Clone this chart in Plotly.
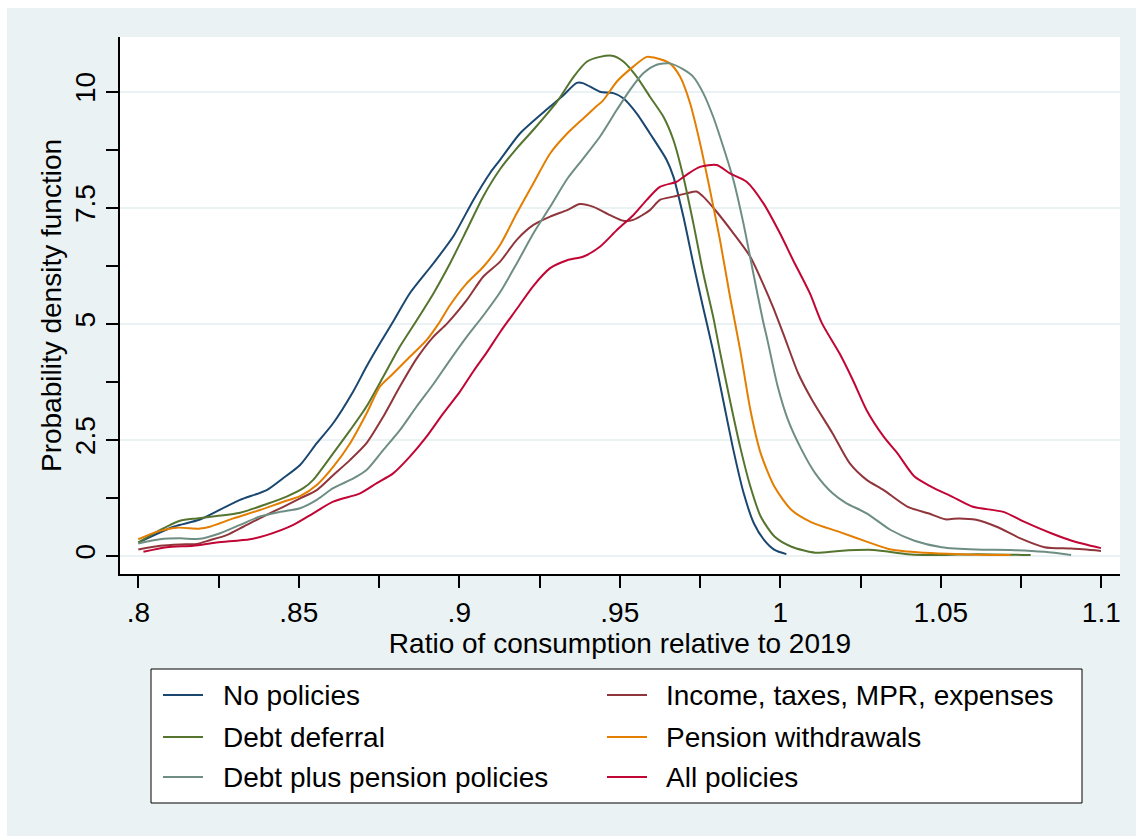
import plotly.graph_objects as go

# Kernel density estimates of the consumption ratio (relative to 2019)
x_none = [0.800, 0.811, 0.819, 0.8255, 0.8317, 0.840, 0.845, 0.8504, 0.8556, 0.8607, 0.867, 0.8711,
          0.8753, 0.8794, 0.8846, 0.8919, 0.8981, 0.9044, 0.9096, 0.9127, 0.9189, 0.9283, 0.9325,
          0.9366, 0.9387, 0.9438, 0.948, 0.9511, 0.9553, 0.9594, 0.9646, 0.9667, 0.9698, 0.9729,
          0.9758, 0.979, 0.9822, 0.9854, 0.9886, 0.9918, 0.995, 0.9982, 1.0019]
y_none = [0.29, 0.63, 0.78, 1.00, 1.21, 1.42, 1.67, 1.96, 2.43, 2.86, 3.55, 4.08,
          4.58, 5.05, 5.66, 6.30, 6.88, 7.67, 8.25, 8.53, 9.10, 9.68, 9.93,
          10.19, 10.18, 10.00, 9.97, 9.86, 9.53, 9.10, 8.53, 8.17, 7.31, 6.30,
          5.40, 4.44, 3.36, 2.28, 1.35, 0.70, 0.34, 0.13, 0.04]

x_income = [0.800, 0.8068, 0.813, 0.8182, 0.8223, 0.8275, 0.8327, 0.8389, 0.8452, 0.8504, 0.8556,
            0.8607, 0.866, 0.8711, 0.8763, 0.8815, 0.8867, 0.8919, 0.8961, 0.9023, 0.9075, 0.9127,
            0.9179, 0.9231, 0.9283, 0.9336, 0.9376, 0.9418, 0.947, 0.9511, 0.9542, 0.9594, 0.9625,
            0.9667, 0.9708, 0.9739, 0.976, 0.9801, 0.9854, 0.9906, 0.9947, 0.9978, 1.0013, 1.0056,
            1.0099, 1.0163, 1.0216, 1.0269, 1.0322, 1.0397, 1.0461, 1.0514, 1.0557, 1.061, 1.0674,
            1.0748, 1.0823, 1.0908, 1.0999]
y_income = [0.14, 0.22, 0.25, 0.26, 0.34, 0.45, 0.63, 0.85, 1.06, 1.24, 1.42,
            1.74, 2.07, 2.43, 3.00, 3.65, 4.25, 4.72, 5.00, 5.51, 6.02, 6.34,
            6.81, 7.13, 7.31, 7.45, 7.58, 7.52, 7.34, 7.22, 7.24, 7.45, 7.67,
            7.74, 7.81, 7.85, 7.74, 7.42, 6.95, 6.45, 5.85, 5.35, 4.72, 3.93,
            3.36, 2.64, 2.00, 1.64, 1.42, 1.06, 0.92, 0.79, 0.81, 0.78, 0.63,
            0.38, 0.19, 0.16, 0.11]

x_debt = [0.800, 0.8057, 0.813, 0.8182, 0.8244, 0.8317, 0.840, 0.8462, 0.8514, 0.8545, 0.8607,
          0.866, 0.8711, 0.8763, 0.8815, 0.8865, 0.8919, 0.8971, 0.9023, 0.9075, 0.9127, 0.9179,
          0.9231, 0.9304, 0.9356, 0.9398, 0.9438, 0.948, 0.9511, 0.9553, 0.9594, 0.9636, 0.9667,
          0.9698, 0.9729, 0.976, 0.9791, 0.9811, 0.9843, 0.9875, 0.9907, 0.9939, 0.9982, 1.0035,
          1.0109, 1.0184, 1.029, 1.0397, 1.0503, 1.061, 1.078]
y_debt = [0.29, 0.52, 0.76, 0.81, 0.86, 0.93, 1.12, 1.28, 1.46, 1.64, 2.21,
          2.71, 3.22, 3.86, 4.51, 5.05, 5.65, 6.30, 7.02, 7.75, 8.33, 8.78,
          9.18, 9.78, 10.32, 10.65, 10.75, 10.77, 10.65, 10.32, 9.89, 9.46, 8.96,
          8.17, 7.17, 6.09, 5.15, 4.44, 3.36, 2.35, 1.49, 0.85, 0.42, 0.20,
          0.07, 0.11, 0.13, 0.04, 0.02, 0.04, 0.02]

x_pension = [0.800, 0.8057, 0.812, 0.8192, 0.8223, 0.8296, 0.8379, 0.8452, 0.8504, 0.8556, 0.8607,
             0.866, 0.8711, 0.8753, 0.8794, 0.8846, 0.8898, 0.8935, 0.8971, 0.9023, 0.9075, 0.9127,
             0.9179, 0.9231, 0.9283, 0.9336, 0.9387, 0.9428, 0.9449, 0.9491, 0.9542, 0.9584, 0.9615,
             0.9656, 0.9688, 0.9719, 0.975, 0.9781, 0.9812, 0.9843, 0.9875, 0.9907, 0.9939, 0.9982,
             1.0035, 1.0099, 1.0184, 1.0269, 1.0344, 1.045, 1.0557, 1.0717]
y_pension = [0.36, 0.52, 0.61, 0.59, 0.63, 0.81, 0.99, 1.17, 1.29, 1.53, 1.92,
             2.43, 3.07, 3.65, 3.93, 4.29, 4.65, 5.00, 5.40, 5.87, 6.23, 6.70,
             7.38, 8.03, 8.67, 9.10, 9.43, 9.69, 9.82, 10.22, 10.54, 10.75, 10.72,
             10.61, 10.32, 9.75, 8.89, 7.88, 6.81, 5.60, 4.44, 3.14, 2.21, 1.49,
             0.99, 0.72, 0.52, 0.31, 0.14, 0.07, 0.04, 0.02]

x_both = [0.800, 0.8068, 0.813, 0.8192, 0.8255, 0.8317, 0.8379, 0.8441, 0.8504, 0.8556, 0.8607,
          0.867, 0.8711, 0.8763, 0.8815, 0.8867, 0.8919, 0.8971, 0.9023, 0.9075, 0.9127, 0.9179,
          0.9231, 0.9283, 0.9336, 0.9387, 0.9438, 0.9491, 0.9532, 0.9574, 0.9615, 0.9656, 0.9698,
          0.9729, 0.976, 0.9791, 0.9822, 0.9854, 0.9885, 0.9916, 0.9945, 0.996, 0.9992, 1.0024,
          1.0067, 1.0109, 1.0163, 1.0205, 1.0269, 1.0344, 1.0418, 1.0503, 1.061, 1.0717, 1.0823,
          1.0906]
y_both = [0.27, 0.36, 0.38, 0.37, 0.49, 0.67, 0.85, 0.95, 1.03, 1.21, 1.46,
          1.67, 1.85, 2.28, 2.71, 3.22, 3.70, 4.22, 4.72, 5.18, 5.68, 6.30,
          6.95, 7.52, 8.12, 8.57, 9.03, 9.61, 10.04, 10.40, 10.58, 10.61, 10.48,
          10.32, 9.97, 9.46, 8.82, 8.10, 7.17, 6.09, 5.10, 4.65, 3.65, 2.93,
          2.28, 1.78, 1.35, 1.14, 0.92, 0.56, 0.33, 0.19, 0.14, 0.13, 0.09,
          0.02]

x_all = [0.8016, 0.8088, 0.8171, 0.8244, 0.8348, 0.840, 0.8483, 0.8545, 0.8607, 0.8691, 0.8743,
         0.8794, 0.8846, 0.8898, 0.895, 0.9002, 0.9044, 0.9085, 0.9127, 0.9179, 0.9231,
         0.9283, 0.9336, 0.9387, 0.9438, 0.9491, 0.9542, 0.9584, 0.9625, 0.9677, 0.9708, 0.975,
         0.9802, 0.9843, 0.9895, 0.9947, 0.9999, 1.004, 1.0092, 1.013, 1.0184, 1.0226, 1.0269,
         1.0322, 1.0365, 1.0418, 1.0471, 1.0535, 1.06, 1.0695, 1.0759, 1.0844, 1.0908, 1.0999]
y_all = [0.09, 0.19, 0.22, 0.29, 0.36, 0.45, 0.67, 0.92, 1.17, 1.35, 1.57,
         1.78, 2.14, 2.57, 3.07, 3.54, 3.98, 4.38, 4.82, 5.32, 5.82,
         6.20, 6.37, 6.45, 6.66, 7.02, 7.34, 7.67, 7.95, 8.06, 8.21, 8.38,
         8.42, 8.24, 8.06, 7.60, 6.95, 6.37, 5.66, 5.01, 4.37, 3.79, 3.14,
         2.57, 2.21, 1.71, 1.49, 1.28, 1.06, 0.95, 0.74, 0.49, 0.33, 0.17]

series_names = ["No policies", "Income, taxes, MPR, expenses", "Debt deferral",
                "Pension withdrawals", "Debt plus pension policies", "All policies"]
series_x = [x_none, x_income, x_debt, x_pension, x_both, x_all]
series_y = [y_none, y_income, y_debt, y_pension, y_both, y_all]

x_tickvals = [0.8, 0.85, 0.9, 0.95, 1.0, 1.05, 1.1]
x_ticktext = [".8", ".85", ".9", ".95", "1", "1.05", "1.1"]
y_tickvals = [0, 2.5, 5, 7.5, 10]
y_ticktext = ["0", "2.5", "5", "7.5", "10"]

# Stata s2color palette
colors = ["rgb(26,71,111)", "rgb(144,53,59)", "rgb(85,117,47)",
          "rgb(227,126,0)", "rgb(110,142,132)", "rgb(193,5,52)"]
region_bg = "rgb(234,242,243)"
FONT = "Liberation Sans, Arial, Helvetica, sans-serif"
FS = 28

W, H = 1136, 836
ML, MR, MT, MB = 120, 16, 37, 262
PW, PH = W - ML - MR, H - MT - MB


def px_to_paper(px, py):
    return (px - ML) / PW, (H - MB - py) / PH


fig = go.Figure()
for name, xs, ys, c in zip(series_names, series_x, series_y, colors):
    fig.add_trace(go.Scatter(x=xs, y=ys, mode="lines", name=name, showlegend=False,
                             line=dict(color=c, width=2, shape="spline", smoothing=0.7)))

shapes = []
annotations = []

# white strips at the top and left of the graph region
shapes.append(dict(type="rect", xref="paper", yref="paper", layer="below",
                   x0=px_to_paper(0, 0)[0], x1=px_to_paper(W + 5, 0)[0],
                   y0=px_to_paper(0, 8)[1], y1=px_to_paper(0, -5)[1],
                   fillcolor="white", line=dict(width=0)))
shapes.append(dict(type="rect", xref="paper", yref="paper", layer="below",
                   x0=px_to_paper(-5, 0)[0], x1=px_to_paper(7, 0)[0],
                   y0=px_to_paper(0, H + 5)[1], y1=px_to_paper(0, -5)[1],
                   fillcolor="white", line=dict(width=0)))

# legend box, two columns filled row by row
lx0, ly0 = px_to_paper(151, 669)
lx1, ly1 = px_to_paper(1082, 803)
shapes.append(dict(type="rect", xref="paper", yref="paper", x0=lx0, x1=lx1, y0=ly1, y1=ly0,
                   fillcolor="white", line=dict(color="black", width=1)))
col_line_x = [163, 607]
col_text_x = [221, 664]
row_y = [695, 737, 777]
for i, (name, c) in enumerate(zip(series_names, colors)):
    r, col = divmod(i, 2)
    ax0, ay = px_to_paper(col_line_x[col], row_y[r])
    ax1, _ = px_to_paper(col_line_x[col] + 40, row_y[r])
    shapes.append(dict(type="line", xref="paper", yref="paper", x0=ax0, x1=ax1, y0=ay, y1=ay,
                       line=dict(color=c, width=2)))
    tx, ty = px_to_paper(col_text_x[col], row_y[r])
    annotations.append(dict(xref="paper", yref="paper", x=tx, y=ty, text=name, showarrow=False,
                            xanchor="left", yanchor="middle",
                            font=dict(family=FONT, size=FS, color="black")))

axis_common = dict(showline=True, linecolor="black", linewidth=2, ticks="outside",
                   ticklen=12, tickwidth=2, tickcolor="black", zeroline=False,
                   tickfont=dict(family=FONT, size=FS, color="black"))

fig.update_layout(
    width=W, height=H, autosize=False,
    margin=dict(l=ML, r=MR, t=MT, b=MB),
    paper_bgcolor=region_bg, plot_bgcolor="white",
    shapes=shapes, annotations=annotations,
    xaxis=dict(range=[0.7943, 1.10583], tickvals=x_tickvals, ticktext=x_ticktext,
               showgrid=False,
               minor=dict(dtick=0.025, tick0=0.8, ticks="outside", ticklen=12, tickwidth=2,
                          tickcolor="black", showgrid=False),
               title=dict(text="Ratio of consumption relative to 2019", standoff=0,
                          font=dict(family=FONT, size=FS, color="black")),
               **axis_common),
    yaxis=dict(range=[-0.3877, 11.178], tickvals=y_tickvals, ticktext=y_ticktext,
               showgrid=True, gridcolor=region_bg, gridwidth=2, tickangle=-90,
               minor=dict(dtick=1.25, tick0=0, ticks="outside", ticklen=12, tickwidth=2,
                          tickcolor="black", showgrid=False),
               title=dict(text="Probability density function", standoff=0,
                          font=dict(family=FONT, size=FS, color="black")),
               **axis_common),
)

fig.write_html("out.html")
